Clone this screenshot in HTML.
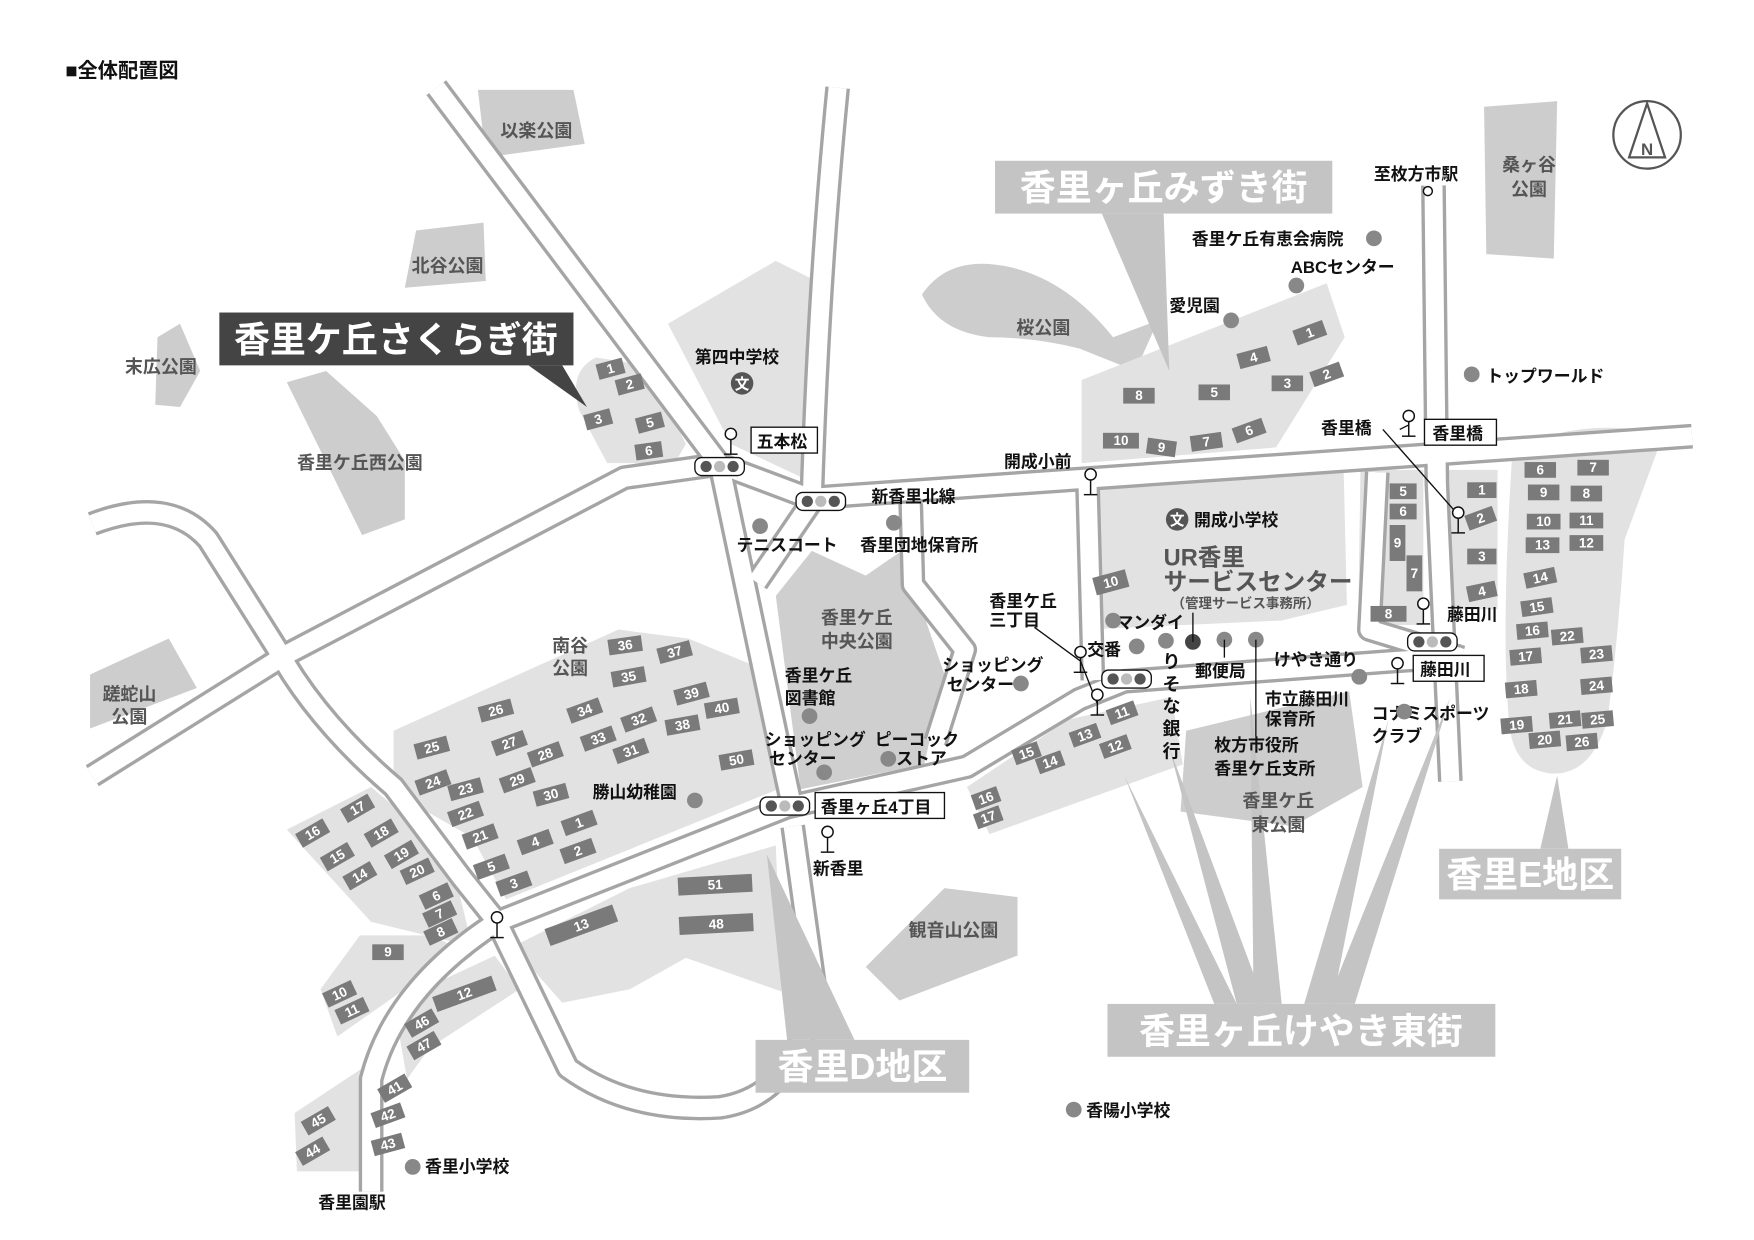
<!DOCTYPE html>
<html><head><meta charset="utf-8"><style>
html,body{margin:0;padding:0;background:#fff;}
svg{display:block;}
text{font-family:"Liberation Sans","Noto Sans CJK JP",sans-serif;}
.b rect{fill:#7a7a7a}
.b text{fill:#fff;font-size:12px;font-weight:bold;text-anchor:middle;dominant-baseline:central}
.pk{fill:#555;font-size:16px;font-weight:bold;text-anchor:middle}
.lb{fill:#111;font-size:15px;font-weight:bold}
</style></head><body>
<svg width="1754" height="1240" viewBox="0 0 1560 1103" xmlns="http://www.w3.org/2000/svg">
<rect width="1560" height="1103" fill="#fff"/>
<text x="58" y="69" style="font-size:18px;font-weight:bold" fill="#111">■全体配置図</text>

<g fill="#cdcdcd">
<polygon points="425,80 510,80 520,128 432,140"/>
<polygon points="370,205 430,198 432,250 360,256"/>
<polygon points="140,300 160,288 178,330 160,362 138,360"/>
<polygon points="255,340 290,330 335,370 360,410 360,462 322,476"/>
<polygon points="80,600 150,568 175,612 80,648"/>
<path d="M820,262 Q845,225 900,238 Q950,250 990,300 L1030,285 L1010,330 L960,310 Q920,300 880,300 Q835,295 820,262Z"/>
<polygon points="1320,95 1385,90 1382,230 1322,226"/>
<polygon points="770,860 840,790 905,798 905,850 800,890"/>
<polygon points="1055,650 1200,615 1212,700 1150,735 1050,722"/>
</g>
<g fill="#e2e2e2">
<path d="M515,365 Q505,330 530,318 L575,325 L610,395 L600,412 L540,412 Z"/>
<polygon points="962,338 1180,252 1196,300 1135,398 962,412"/>
<polygon points="594,288 690,232 722,248 720,428 650,395"/>
<polygon points="962,420 1195,414 1198,538 1140,552 965,560"/>
<polygon points="350,650 550,560 612,568 690,600 692,702 450,800 420,745 350,705"/>
<polygon points="255,738 330,700 400,760 420,842 330,820"/>
<polygon points="285,880 320,832 384,832 420,850 360,880 300,922"/>
<polygon points="262,990 330,945 332,1042 264,1042"/>
<polygon points="350,892 440,850 462,880 382,932 362,960"/>
<polygon points="456,842 560,790 690,752 695,882 610,852 560,880 500,892"/>
<polygon points="860,700 950,640 1042,620 1052,680 880,742"/>
<polygon points="1210,418 1266,418 1266,556 1208,556"/>
<polygon points="1284,418 1332,418 1332,542 1284,542"/>
<path d="M1345,405 Q1390,370 1480,385 L1445,480 Q1440,560 1430,640 Q1415,690 1380,688 Q1345,685 1342,640 Q1335,560 1345,405Z"/>
</g>
<polygon points="690,530 722,490 770,512 802,490 840,600 822,680 712,702" fill="#cfcfcf"/>

<g fill="none" stroke-linejoin="round" stroke-linecap="butt">
<g stroke="#a5a5a5" stroke-width="22">
<polyline points="82,690 255,582 555,425 640,413"/>
<path d="M82,466 Q150,440 185,480 L245,575 Q280,640 350,700 L410,780 L442,820"/>
<path d="M442,820 Q350,880 330,960 L330,1060"/>
<path d="M442,820 L505,950 Q560,990 640,985 Q710,975 725,880 L705,735"/>
<polyline points="442,820 700,718 860,682 960,622 1000,606 1240,588 1300,584"/>
<polyline points="388,78 640,413 690,650 705,720"/>
<polyline points="640,413 720,443 1505,388"/>
<polyline points="722,446 673,518"/>
<path d="M745,78 Q728,250 722,443"/>
<polyline points="810,448 812,520 858,578 832,660"/>
<polyline points="967,422 972,605"/>
<polyline points="1275,165 1278,430 1290,695"/>
<polyline points="1225,420 1218,560 1300,585"/>
</g>
<g stroke="#fff" stroke-width="16">
<polyline points="82,690 255,582 555,425 640,413"/>
<path d="M82,466 Q150,440 185,480 L245,575 Q280,640 350,700 L410,780 L442,820"/>
<path d="M442,820 Q350,880 330,960 L330,1060"/>
<path d="M442,820 L505,950 Q560,990 640,985 Q710,975 725,880 L705,735"/>
<polyline points="442,820 700,718 860,682 960,622 1000,606 1240,588 1300,584"/>
<polyline points="388,78 640,413 690,650 705,720"/>
<polyline points="640,413 720,443 1505,388"/>
<polyline points="722,446 673,518"/>
<path d="M745,78 Q728,250 722,443"/>
<polyline points="810,448 812,520 858,578 832,660"/>
<polyline points="967,422 972,605"/>
<polyline points="1275,165 1278,430 1290,695"/>
<polyline points="1225,420 1218,560 1300,585"/>
</g>
</g>

<g fill="#c4c4c4">
<polygon points="980,190 1035,190 1040,330"/>
<polygon points="700,925 760,925 682,760"/>
<polygon points="1080,893 1100,893 1000,690"/>
<polygon points="1100,893 1125,893 1040,665"/>
<polygon points="1115,893 1140,893 1112,620"/>
<polygon points="1160,893 1185,893 1235,640"/>
<polygon points="1180,893 1205,893 1290,620"/>
<polygon points="1370,755 1395,755 1385,690"/>
</g>
<polygon points="470,325 500,325 522,362" fill="#444"/>
<rect x="195" y="278" width="315" height="47" fill="#444"/>
<text x="352" y="313" text-anchor="middle" fill="#fff" style="font-size:32px;font-weight:bold">香里ケ丘さくらぎ街</text>
<rect x="885" y="143" width="300" height="47" fill="#c4c4c4"/>
<text x="1035" y="178" text-anchor="middle" fill="#fff" style="font-size:32px;font-weight:bold">香里ヶ丘みずき街</text>
<rect x="672" y="925" width="190" height="47" fill="#c4c4c4"/>
<text x="767" y="960" text-anchor="middle" fill="#fff" style="font-size:32px;font-weight:bold">香里D地区</text>
<rect x="985" y="893" width="345" height="47" fill="#c4c4c4"/>
<text x="1157" y="928" text-anchor="middle" fill="#fff" style="font-size:32px;font-weight:bold">香里ヶ丘けやき東街</text>
<rect x="1280" y="755" width="162" height="45" fill="#c4c4c4"/>
<text x="1361" y="789" text-anchor="middle" fill="#fff" style="font-size:32px;font-weight:bold">香里E地区</text>

<g class="b">
<g transform="translate(543,328) rotate(-15)"><rect x="-12" y="-7" width="24" height="14"/><text>1</text></g>
<g transform="translate(560,342) rotate(-15)"><rect x="-12" y="-7" width="24" height="14"/><text>2</text></g>
<g transform="translate(532,373) rotate(-15)"><rect x="-12" y="-7" width="24" height="14"/><text>3</text></g>
<g transform="translate(578,376) rotate(-15)"><rect x="-12" y="-7" width="24" height="14"/><text>5</text></g>
<g transform="translate(577,401) rotate(-8)"><rect x="-12" y="-7" width="24" height="14"/><text>6</text></g>
<g transform="translate(1165,296) rotate(-20)"><rect x="-14" y="-7" width="28" height="14"/><text>1</text></g>
<g transform="translate(1180,333) rotate(-20)"><rect x="-14" y="-7" width="28" height="14"/><text>2</text></g>
<g transform="translate(1145,341)"><rect x="-14" y="-7" width="28" height="14"/><text>3</text></g>
<g transform="translate(1115,318) rotate(-15)"><rect x="-14" y="-7" width="28" height="14"/><text>4</text></g>
<g transform="translate(1080,349)"><rect x="-14" y="-7" width="28" height="14"/><text>5</text></g>
<g transform="translate(1013,352)"><rect x="-14" y="-7" width="28" height="14"/><text>8</text></g>
<g transform="translate(997,392)"><rect x="-16" y="-7" width="32" height="14"/><text>10</text></g>
<g transform="translate(1033,398) rotate(8)"><rect x="-13" y="-7" width="26" height="14"/><text>9</text></g>
<g transform="translate(1073,393) rotate(-8)"><rect x="-14" y="-7" width="28" height="14"/><text>7</text></g>
<g transform="translate(1111,383) rotate(-20)"><rect x="-14" y="-7" width="28" height="14"/><text>6</text></g>
<g transform="translate(988,518) rotate(-15)"><rect x="-15" y="-8" width="30" height="16"/><text>10</text></g>
<g transform="translate(1248,437)"><rect x="-12" y="-7" width="24" height="14"/><text>5</text></g>
<g transform="translate(1248,455)"><rect x="-12" y="-7" width="24" height="14"/><text>6</text></g>
<g transform="translate(1243,483)"><rect x="-7" y="-16" width="14" height="32"/><text>9</text></g>
<g transform="translate(1258,510)"><rect x="-7" y="-16" width="14" height="32"/><text>7</text></g>
<g transform="translate(1235,546)"><rect x="-16" y="-7" width="32" height="14"/><text>8</text></g>
<g transform="translate(1318,436)"><rect x="-13" y="-7" width="26" height="14"/><text>1</text></g>
<g transform="translate(1317,461) rotate(-20)"><rect x="-13" y="-7" width="26" height="14"/><text>2</text></g>
<g transform="translate(1318,495)"><rect x="-13" y="-7" width="26" height="14"/><text>3</text></g>
<g transform="translate(1318,526) rotate(-12)"><rect x="-13" y="-7" width="26" height="14"/><text>4</text></g>
<g transform="translate(1370,418)"><rect x="-14" y="-7" width="28" height="14"/><text>6</text></g>
<g transform="translate(1417,416)"><rect x="-14" y="-7" width="28" height="14"/><text>7</text></g>
<g transform="translate(1373,438)"><rect x="-14" y="-7" width="28" height="14"/><text>9</text></g>
<g transform="translate(1411,439)"><rect x="-14" y="-7" width="28" height="14"/><text>8</text></g>
<g transform="translate(1373,464)"><rect x="-15" y="-7" width="30" height="14"/><text>10</text></g>
<g transform="translate(1411,463)"><rect x="-15" y="-7" width="30" height="14"/><text>11</text></g>
<g transform="translate(1372,485)"><rect x="-15" y="-7" width="30" height="14"/><text>13</text></g>
<g transform="translate(1411,483)"><rect x="-15" y="-7" width="30" height="14"/><text>12</text></g>
<g transform="translate(1370,514) rotate(-12)"><rect x="-14" y="-7" width="28" height="14"/><text>14</text></g>
<g transform="translate(1367,540) rotate(-8)"><rect x="-14" y="-7" width="28" height="14"/><text>15</text></g>
<g transform="translate(1363,561) rotate(-5)"><rect x="-14" y="-7" width="28" height="14"/><text>16</text></g>
<g transform="translate(1394,566) rotate(-5)"><rect x="-14" y="-7" width="28" height="14"/><text>22</text></g>
<g transform="translate(1357,584) rotate(-5)"><rect x="-14" y="-7" width="28" height="14"/><text>17</text></g>
<g transform="translate(1420,582) rotate(-5)"><rect x="-14" y="-7" width="28" height="14"/><text>23</text></g>
<g transform="translate(1353,613) rotate(-5)"><rect x="-14" y="-7" width="28" height="14"/><text>18</text></g>
<g transform="translate(1420,610) rotate(-5)"><rect x="-14" y="-7" width="28" height="14"/><text>24</text></g>
<g transform="translate(1349,645) rotate(-5)"><rect x="-14" y="-7" width="28" height="14"/><text>19</text></g>
<g transform="translate(1392,640) rotate(-5)"><rect x="-14" y="-7" width="28" height="14"/><text>21</text></g>
<g transform="translate(1421,640) rotate(-5)"><rect x="-14" y="-7" width="28" height="14"/><text>25</text></g>
<g transform="translate(1374,658) rotate(-5)"><rect x="-14" y="-7" width="28" height="14"/><text>20</text></g>
<g transform="translate(1407,660) rotate(-5)"><rect x="-14" y="-7" width="28" height="14"/><text>26</text></g>
<g transform="translate(998,634) rotate(-20)"><rect x="-13" y="-7" width="26" height="14"/><text>11</text></g>
<g transform="translate(965,654) rotate(-20)"><rect x="-13" y="-7" width="26" height="14"/><text>13</text></g>
<g transform="translate(992,664) rotate(-20)"><rect x="-13" y="-7" width="26" height="14"/><text>12</text></g>
<g transform="translate(913,670) rotate(-20)"><rect x="-12" y="-7" width="24" height="14"/><text>15</text></g>
<g transform="translate(934,678) rotate(-20)"><rect x="-12" y="-7" width="24" height="14"/><text>14</text></g>
<g transform="translate(877,710) rotate(-20)"><rect x="-12" y="-7" width="24" height="14"/><text>16</text></g>
<g transform="translate(879,727) rotate(-20)"><rect x="-12" y="-7" width="24" height="14"/><text>17</text></g>
<g transform="translate(556,574) rotate(-8)"><rect x="-15" y="-7" width="30" height="14"/><text>36</text></g>
<g transform="translate(600,580) rotate(-15)"><rect x="-15" y="-7" width="30" height="14"/><text>37</text></g>
<g transform="translate(559,602) rotate(-10)"><rect x="-15" y="-7" width="30" height="14"/><text>35</text></g>
<g transform="translate(615,617) rotate(-15)"><rect x="-15" y="-7" width="30" height="14"/><text>39</text></g>
<g transform="translate(642,630) rotate(-10)"><rect x="-15" y="-7" width="30" height="14"/><text>40</text></g>
<g transform="translate(520,632) rotate(-20)"><rect x="-15" y="-7" width="30" height="14"/><text>34</text></g>
<g transform="translate(568,640) rotate(-20)"><rect x="-15" y="-7" width="30" height="14"/><text>32</text></g>
<g transform="translate(607,645) rotate(-10)"><rect x="-15" y="-7" width="30" height="14"/><text>38</text></g>
<g transform="translate(441,632) rotate(-15)"><rect x="-15" y="-7" width="30" height="14"/><text>26</text></g>
<g transform="translate(532,657) rotate(-20)"><rect x="-15" y="-7" width="30" height="14"/><text>33</text></g>
<g transform="translate(561,668) rotate(-20)"><rect x="-15" y="-7" width="30" height="14"/><text>31</text></g>
<g transform="translate(384,665) rotate(-15)"><rect x="-15" y="-7" width="30" height="14"/><text>25</text></g>
<g transform="translate(453,661) rotate(-20)"><rect x="-15" y="-7" width="30" height="14"/><text>27</text></g>
<g transform="translate(485,671) rotate(-20)"><rect x="-15" y="-7" width="30" height="14"/><text>28</text></g>
<g transform="translate(385,696) rotate(-20)"><rect x="-15" y="-7" width="30" height="14"/><text>24</text></g>
<g transform="translate(460,694) rotate(-20)"><rect x="-15" y="-7" width="30" height="14"/><text>29</text></g>
<g transform="translate(414,702) rotate(-15)"><rect x="-15" y="-7" width="30" height="14"/><text>23</text></g>
<g transform="translate(655,676) rotate(-10)"><rect x="-15" y="-7" width="30" height="14"/><text>50</text></g>
<g transform="translate(490,707) rotate(-15)"><rect x="-15" y="-7" width="30" height="14"/><text>30</text></g>
<g transform="translate(414,724) rotate(-20)"><rect x="-15" y="-7" width="30" height="14"/><text>22</text></g>
<g transform="translate(515,732) rotate(-20)"><rect x="-15" y="-7" width="30" height="14"/><text>1</text></g>
<g transform="translate(427,744) rotate(-20)"><rect x="-15" y="-7" width="30" height="14"/><text>21</text></g>
<g transform="translate(476,749) rotate(-20)"><rect x="-15" y="-7" width="30" height="14"/><text>4</text></g>
<g transform="translate(514,757) rotate(-20)"><rect x="-15" y="-7" width="30" height="14"/><text>2</text></g>
<g transform="translate(437,771) rotate(-20)"><rect x="-15" y="-7" width="30" height="14"/><text>5</text></g>
<g transform="translate(457,786) rotate(-20)"><rect x="-15" y="-7" width="30" height="14"/><text>3</text></g>
<g transform="translate(318,719) rotate(-30)"><rect x="-14" y="-7" width="28" height="14"/><text>17</text></g>
<g transform="translate(278,741) rotate(-30)"><rect x="-14" y="-7" width="28" height="14"/><text>16</text></g>
<g transform="translate(339,741) rotate(-30)"><rect x="-14" y="-7" width="28" height="14"/><text>18</text></g>
<g transform="translate(300,762) rotate(-30)"><rect x="-14" y="-7" width="28" height="14"/><text>15</text></g>
<g transform="translate(357,760) rotate(-30)"><rect x="-14" y="-7" width="28" height="14"/><text>19</text></g>
<g transform="translate(320,779) rotate(-30)"><rect x="-14" y="-7" width="28" height="14"/><text>14</text></g>
<g transform="translate(371,775) rotate(-25)"><rect x="-14" y="-7" width="28" height="14"/><text>20</text></g>
<g transform="translate(388,797) rotate(-25)"><rect x="-14" y="-7" width="28" height="14"/><text>6</text></g>
<g transform="translate(391,813) rotate(-25)"><rect x="-14" y="-7" width="28" height="14"/><text>7</text></g>
<g transform="translate(392,829) rotate(-25)"><rect x="-14" y="-7" width="28" height="14"/><text>8</text></g>
<g transform="translate(345,847)"><rect x="-14" y="-7" width="28" height="14"/><text>9</text></g>
<g transform="translate(302,884) rotate(-25)"><rect x="-14" y="-7" width="28" height="14"/><text>10</text></g>
<g transform="translate(313,899) rotate(-25)"><rect x="-14" y="-7" width="28" height="14"/><text>11</text></g>
<g transform="translate(413,884) rotate(-20)"><rect x="-28" y="-7" width="56" height="14"/><text>12</text></g>
<g transform="translate(375,910) rotate(-30)"><rect x="-14" y="-7" width="28" height="14"/><text>46</text></g>
<g transform="translate(377,930) rotate(-30)"><rect x="-14" y="-7" width="28" height="14"/><text>47</text></g>
<g transform="translate(351,968) rotate(-30)"><rect x="-14" y="-7" width="28" height="14"/><text>41</text></g>
<g transform="translate(345,992) rotate(-20)"><rect x="-14" y="-7" width="28" height="14"/><text>42</text></g>
<g transform="translate(345,1018) rotate(-15)"><rect x="-14" y="-7" width="28" height="14"/><text>43</text></g>
<g transform="translate(283,997) rotate(-30)"><rect x="-14" y="-7" width="28" height="14"/><text>45</text></g>
<g transform="translate(278,1024) rotate(-30)"><rect x="-14" y="-7" width="28" height="14"/><text>44</text></g>
<g transform="translate(517,823) rotate(-20)"><rect x="-32" y="-8" width="64" height="16"/><text>13</text></g>
<g transform="translate(636,787) rotate(-3)"><rect x="-33" y="-8" width="66" height="16"/><text>51</text></g>
<g transform="translate(637,822) rotate(-3)"><rect x="-33" y="-8" width="66" height="16"/><text>48</text></g>
</g>

<g class="pk">
<text x="477" y="122">以楽公園</text>
<text x="398" y="242">北谷公園</text>
<text x="143" y="332">末広公園</text>
<text x="320" y="417">香里ケ丘西公園</text>
<text x="115" y="623">蹉蛇山</text><text x="115" y="643">公園</text>
<text x="507" y="580">南谷</text><text x="507" y="600">公園</text>
<text x="928" y="297">桜公園</text>
<text x="1360" y="152">桑ヶ谷</text><text x="1360" y="174">公園</text>
<text x="762" y="555">香里ケ丘</text><text x="762" y="576">中央公園</text>
<text x="1137" y="718">香里ケ丘</text><text x="1137" y="739">東公園</text>
<text x="848" y="833">観音山公園</text>
</g>

<g class="lb">
<text x="618" y="323">第四中学校</text>
<text x="655" y="490">テニスコート</text>
<text x="765" y="490">香里団地保育所</text>
<text x="775" y="447">新香里北線</text>
<text x="893" y="416">開成小前</text>
<text x="1062" y="468">開成小学校</text>
<text x="1060" y="218">香里ケ丘有恵会病院</text>
<text x="1148" y="243">ABCセンター</text>
<text x="1040" y="277">愛児園</text>
<text x="1322" y="340">トップワールド</text>
<text x="1222" y="160">至枚方市駅</text>
<text x="1175" y="386">香里橋</text>
<text x="1287" y="552">藤田川</text>
<text x="880" y="540">香里ケ丘</text><text x="880" y="557">三丁目</text>
<text x="838" y="597">ショッピング</text><text x="842" y="614">センター</text>
<text x="698" y="606">香里ケ丘</text><text x="698" y="626">図書館</text>
<text x="680" y="663">ショッピング</text><text x="684" y="680">センター</text>
<text x="778" y="663">ピーコック</text><text x="797" y="680">ストア</text>
<text x="527" y="710">勝山幼稚園</text>
<text x="723" y="778">新香里</text>
<text x="967" y="583">交番</text>
<text x="993" y="559">マンダイ</text>
<text x="1063" y="602">郵便局</text>
<text x="1133" y="592">けやき通り</text>
<text x="1125" y="627">市立藤田川</text><text x="1125" y="645">保育所</text>
<text x="1080" y="668">枚方市役所</text><text x="1080" y="689">香里ケ丘支所</text>
<text x="1220" y="640">コナミスポーツ</text><text x="1220" y="660">クラブ</text>
<text x="966" y="993">香陽小学校</text>
<text x="378" y="1043">香里小学校</text>
<text x="283" y="1075">香里園駅</text>
</g>
<g class="lb" style="font-size:16px">
<text x="1034" y="594">り</text><text x="1034" y="614">そ</text><text x="1034" y="634">な</text><text x="1034" y="654">銀</text><text x="1034" y="674">行</text>
</g>
<text x="1035" y="503" fill="#555" style="font-size:21px;font-weight:bold">UR香里</text>
<text x="1035" y="525" fill="#555" style="font-size:21px;font-weight:bold">サービスセンター</text>
<text x="1042" y="541" fill="#555" style="font-size:12px;font-weight:bold">（管理サービス事務所）</text>

<circle cx="660" cy="341" r="10" fill="#555"/><text x="660" y="346" text-anchor="middle" fill="#fff" style="font-size:13px;font-weight:bold">文</text>
<circle cx="1047" cy="462" r="10" fill="#555"/><text x="1047" y="467" text-anchor="middle" fill="#fff" style="font-size:13px;font-weight:bold">文</text>

<g fill="#888">
<circle cx="676" cy="468" r="7"/><circle cx="795" cy="465" r="7"/><circle cx="908" cy="608" r="7"/>
<circle cx="1222" cy="212" r="7"/><circle cx="1153" cy="254" r="7"/><circle cx="1095" cy="285" r="7"/>
<circle cx="1309" cy="333" r="7"/><circle cx="720" cy="637" r="7"/><circle cx="733" cy="687" r="7"/>
<circle cx="790" cy="675" r="7"/><circle cx="618" cy="712" r="7"/><circle cx="990" cy="552" r="7"/>
<circle cx="1011" cy="575" r="7"/><circle cx="1037" cy="570" r="7"/><circle cx="1089" cy="569" r="7"/>
<circle cx="1117" cy="569" r="7"/><circle cx="1209" cy="602" r="7"/><circle cx="1249" cy="633" r="7"/>
<circle cx="955" cy="987" r="7"/><circle cx="367" cy="1038" r="7"/>
</g>
<circle cx="1061" cy="571" r="7" fill="#444"/>
<g stroke="#111" stroke-width="1.2" fill="none">
<line x1="1089" y1="569" x2="1089" y2="585"/><line x1="1117" y1="569" x2="1117" y2="655"/><line x1="1061" y1="571" x2="1061" y2="545"/>
<polyline points="920,558 961,588 976,626"/><polyline points="1245,382 1253,378"/><polyline points="1230,382 1297,458"/>
</g>

<g stroke="#111" stroke-width="1.3" fill="#fff">
<g transform="translate(650,386)"><circle r="5"/><line y1="5" y2="18"/><line x1="-6" x2="6" y1="18" y2="18"/></g>
<g transform="translate(970,422)"><circle r="5"/><line y1="5" y2="18"/><line x1="-6" x2="6" y1="18" y2="18"/></g>
<g transform="translate(1253,370)"><circle r="5"/><line y1="5" y2="18"/><line x1="-6" x2="6" y1="18" y2="18"/></g>
<g transform="translate(1297,456)"><circle r="5"/><line y1="5" y2="18"/><line x1="-6" x2="6" y1="18" y2="18"/></g>
<g transform="translate(1266,537)"><circle r="5"/><line y1="5" y2="18"/><line x1="-6" x2="6" y1="18" y2="18"/></g>
<g transform="translate(1243,590)"><circle r="5"/><line y1="5" y2="18"/><line x1="-6" x2="6" y1="18" y2="18"/></g>
<g transform="translate(961,580)"><circle r="5"/><line y1="5" y2="18"/><line x1="-6" x2="6" y1="18" y2="18"/></g>
<g transform="translate(976,618)"><circle r="5"/><line y1="5" y2="18"/><line x1="-6" x2="6" y1="18" y2="18"/></g>
<g transform="translate(442,816)"><circle r="5"/><line y1="5" y2="18"/><line x1="-6" x2="6" y1="18" y2="18"/></g>
<g transform="translate(736,740)"><circle r="5"/><line y1="5" y2="18"/><line x1="-6" x2="6" y1="18" y2="18"/></g>
<g transform="translate(1270,170)"><circle r="4"/></g>
</g>
<g>
<g transform="translate(640,415)"><rect x="-22" y="-8" width="44" height="16" rx="6" fill="#fff" stroke="#111" stroke-width="1.2"/><circle cx="-12" r="5" fill="#555"/><circle r="5" fill="#bbb"/><circle cx="12" r="5" fill="#555"/></g>
<g transform="translate(730,446)"><rect x="-22" y="-8" width="44" height="16" rx="6" fill="#fff" stroke="#111" stroke-width="1.2"/><circle cx="-12" r="5" fill="#555"/><circle r="5" fill="#bbb"/><circle cx="12" r="5" fill="#555"/></g>
<g transform="translate(1002,604)"><rect x="-22" y="-8" width="44" height="16" rx="6" fill="#fff" stroke="#111" stroke-width="1.2"/><circle cx="-12" r="5" fill="#555"/><circle r="5" fill="#bbb"/><circle cx="12" r="5" fill="#555"/></g>
<g transform="translate(1274,571)"><rect x="-22" y="-8" width="44" height="16" rx="6" fill="#fff" stroke="#111" stroke-width="1.2"/><circle cx="-12" r="5" fill="#555"/><circle r="5" fill="#bbb"/><circle cx="12" r="5" fill="#555"/></g>
<g transform="translate(698,717)"><rect x="-22" y="-8" width="44" height="16" rx="6" fill="#fff" stroke="#111" stroke-width="1.2"/><circle cx="-12" r="5" fill="#555"/><circle r="5" fill="#bbb"/><circle cx="12" r="5" fill="#555"/></g>
</g>
<g class="lb">
<rect x="668" y="380" width="59" height="23" fill="#fff" stroke="#111" stroke-width="1.2"/><text x="673" y="398">五本松</text>
<rect x="1267" y="373" width="64" height="23" fill="#fff" stroke="#111" stroke-width="1.2"/><text x="1274" y="391">香里橋</text>
<rect x="725" y="705" width="115" height="23" fill="#fff" stroke="#111" stroke-width="1.2"/><text x="730" y="723">香里ヶ丘4丁目</text>
<rect x="1257" y="583" width="63" height="23" fill="#fff" stroke="#111" stroke-width="1.2"/><text x="1263" y="601">藤田川</text>
</g>

<circle cx="1465" cy="120" r="30" fill="#fff" stroke="#555" stroke-width="2"/>
<polygon points="1465,92 1449,140 1481,140" fill="#fff" stroke="#555" stroke-width="2"/>
<text x="1465" y="138" text-anchor="middle" fill="#555" style="font-size:15px;font-weight:bold">N</text>
</svg>
</body></html>
